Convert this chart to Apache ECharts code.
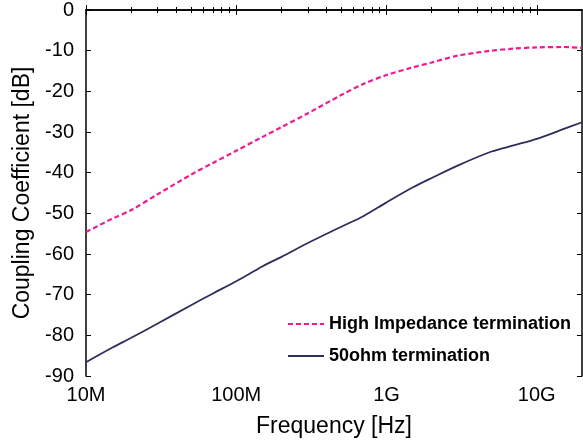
<!DOCTYPE html>
<html>
<head>
<meta charset="utf-8">
<script src="https://cdn.jsdelivr.net/npm/echarts@6/dist/echarts.min.js"></script>
<style>html,body{margin:0;padding:0;background:#fff}#c{width:583px;height:447px}</style>
</head>
<body>
<div id="c"></div>
<script>
const freqs = [1e7, 1.5e7, 2e7, 3e7, 5e7, 7e7, 1e8, 1.5e8, 2e8, 3e8, 5e8, 7e8, 1e9, 1.5e9, 2e9, 3e9, 5e9, 7e9, 1e10, 1.5e10, 2e10];
const highImpedance = [-54.6, -51.3, -49.2, -45.3, -40.5, -37.6, -34.6, -31.2, -28.8, -25.4, -20.9, -18.2, -16.0, -14.1, -12.9, -11.2, -10.0, -9.5, -9.2, -9.1, -9.3];
const ohm50 = [-86.6, -83.0, -80.6, -77.1, -72.6, -69.7, -66.7, -63.0, -60.7, -57.3, -53.3, -50.7, -47.3, -43.6, -41.3, -38.2, -34.8, -33.3, -31.7, -29.3, -27.6];
const majorTicks = [1e7, 1e8, 1e9, 1e10];
const majorLabels = ['10M', '100M', '1G', '10G'];
const minorTicks = [2e7,3e7,4e7,5e7,6e7,7e7,8e7,9e7,2e8,3e8,4e8,5e8,6e8,7e8,8e8,9e8,2e9,3e9,4e9,5e9,6e9,7e9,8e9,9e9];
const seriesNames = ['High Impedance termination', '50ohm termination'];

const FONT = 'Liberation Sans, Arial, sans-serif';
const chart = echarts.init(document.getElementById('c'));
const axLine = {show: true, lineStyle: {color: '#000', width: 1.5}};
function xAx(pos, ticks, len, showLine, withLabels) {
  const a = {
    type: 'log', min: 1e7, max: 2e10, position: pos, logBase: 10,
    axisLine: showLine ? axLine : {show: false},
    axisTick: {show: true, inside: true, length: len, customValues: ticks, lineStyle: {color: '#000', width: 1}},
    splitLine: {show: false},
    axisLabel: {show: false}
  };
  if (withLabels) {
    a.axisLabel = {show: true, customValues: majorTicks, color: '#000', fontSize: 20, fontFamily: FONT, margin: 9,
      formatter: v => { const i = majorTicks.findIndex(t => Math.abs(t - v) / t < 1e-6); return i >= 0 ? majorLabels[i] : ''; }};
    a.name = 'Frequency [Hz]';
    a.nameLocation = 'middle';
    a.nameGap = 39;
    a.nameTextStyle = {color: '#000', fontSize: 23, fontFamily: FONT};
  }
  return a;
}
chart.setOption({
  animation: false,
  backgroundColor: '#fff',
  grid: {left: 86, right: 1, top: 7, bottom: 71, containLabel: false},
  xAxis: [
    xAx('bottom', majorTicks, 5, true, true),
    xAx('bottom', minorTicks, 3, false, false),
    xAx('top', majorTicks, 5, true, false),
    xAx('top', minorTicks, 3, false, false)
  ],
  yAxis: [
    {type: 'value', min: -90, max: 0, interval: 10, position: 'left',
     axisLine: axLine, axisTick: {show: true, inside: true, length: 5, lineStyle: {color: '#000'}},
     splitLine: {show: false},
     axisLabel: {color: '#000', fontSize: 20, fontFamily: FONT, margin: 12},
     name: 'Coupling Coefficient [dB]', nameLocation: 'middle', nameGap: 50,
     nameTextStyle: {color: '#000', fontSize: 23, fontFamily: FONT}},
    {type: 'value', min: -90, max: 0, interval: 10, position: 'right',
     axisLine: axLine, axisTick: {show: true, inside: true, length: 5, lineStyle: {color: '#000'}},
     splitLine: {show: false}, axisLabel: {show: false}}
  ],
  legend: {
    orient: 'vertical', left: 282, top: 310, itemWidth: 36, itemHeight: 14, itemGap: 14,
    itemStyle: {opacity: 0},
    textStyle: {color: '#000', fontSize: 18, fontWeight: 'bold', fontFamily: FONT},
    data: seriesNames
  },
  series: [
    {name: seriesNames[0], type: 'line', symbol: 'none', xAxisIndex: 0, yAxisIndex: 0,
     data: freqs.map((f, i) => [f, highImpedance[i]]), smooth: 0.3,
     lineStyle: {color: '#f2198f', width: 2.2, type: [5, 3]}, itemStyle: {color: '#f2198f'}},
    {name: seriesNames[1], type: 'line', symbol: 'none', xAxisIndex: 0, yAxisIndex: 0,
     data: freqs.map((f, i) => [f, ohm50[i]]), smooth: 0.3,
     lineStyle: {color: '#2d2e5c', width: 1.8}, itemStyle: {color: '#2d2e5c'}}
  ]
});
</script>
</body>
</html>
